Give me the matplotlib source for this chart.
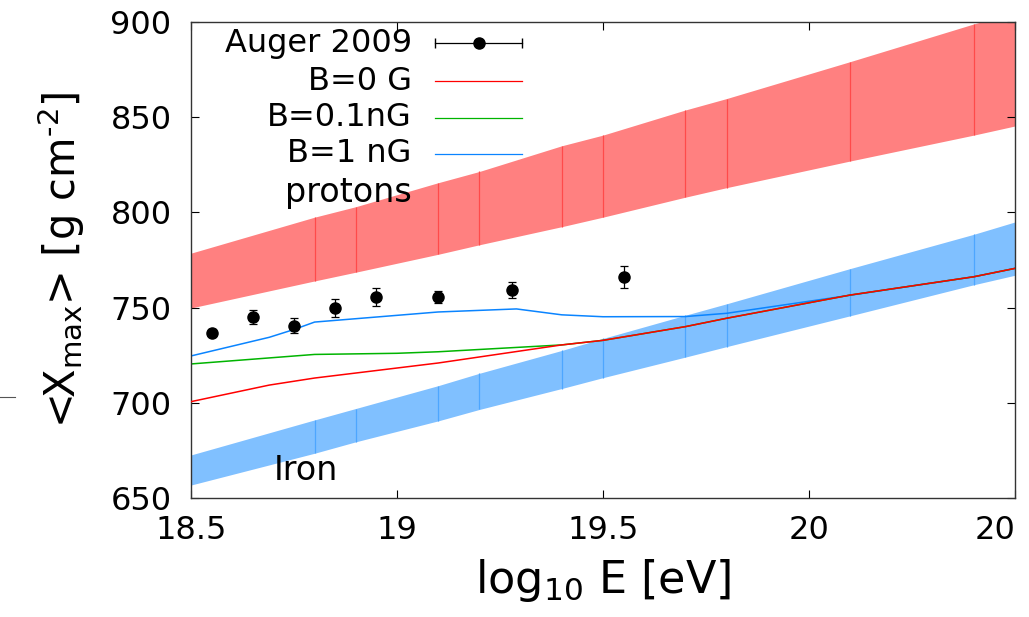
import numpy as np
import matplotlib
matplotlib.use("Agg")
import matplotlib.pyplot as plt
from matplotlib.lines import Line2D

plt.rcParams['font.family'] = ['DejaVu Sans']
plt.rcParams['mathtext.fontset'] = 'dejavusans'
plt.rcParams['mathtext.default'] = 'regular'

# Auger 2009 data
auger_E = [18.55, 18.65, 18.75, 18.85, 18.95, 19.10, 19.28, 19.55]
auger_X = [736.8, 745.2, 740.5, 749.8, 755.6, 755.6, 759.2, 766.2]
auger_err = [1.8, 3.7, 4.0, 4.5, 4.7, 3.0, 4.3, 5.7]

# proton / iron bands
band_E = [18.5, 18.8, 18.9, 19.1, 19.2, 19.4, 19.5, 19.7, 19.8, 20.1, 20.4, 20.5]
proton_hi = [778.6, 797.5, 803.0, 815.6, 821.5, 835.0, 840.6, 853.8, 859.8, 879.2, 899.0, 905.0]
proton_lo = [749.8, 764.0, 768.6, 778.0, 783.0, 792.5, 797.5, 808.0, 813.0, 827.0, 840.6, 845.4]
iron_hi = [672.6, 691.0, 697.0, 709.0, 715.5, 727.5, 733.8, 746.0, 752.0, 770.5, 788.5, 795.0]
iron_lo = [656.8, 673.5, 679.5, 690.5, 696.5, 707.5, 713.2, 724.0, 729.5, 745.7, 762.0, 767.0]

# model curves
b0_E = [18.5, 18.69, 18.8, 19.1, 19.4, 19.5, 19.7, 19.8, 20.1, 20.4, 20.5]
b0_X = [700.6, 709.3, 713.0, 720.9, 730.4, 732.8, 740.0, 744.4, 756.6, 766.2, 770.6]
b01_E = [18.5, 18.8, 19.0, 19.1, 19.25, 19.4, 19.5, 19.7, 19.8, 20.1, 20.4, 20.5]
b01_X = [720.4, 725.4, 726.0, 726.8, 728.6, 730.4, 732.8, 740.0, 744.4, 756.6, 766.2, 770.6]
b1_E = [18.5, 18.69, 18.75, 18.8, 19.1, 19.29, 19.4, 19.5, 19.7, 19.8, 20.1, 20.4, 20.5]
b1_X = [724.6, 734.4, 738.5, 742.4, 747.7, 749.3, 746.2, 745.2, 745.3, 747.0, 756.5, 766.2, 770.6]

xticks = [18.5, 19, 19.5, 20, 20.5]
xticklabels = ['18.5', '19', '19.5', '20', '20']
yticks = [650, 700, 750, 800, 850, 900]

fig = plt.figure(figsize=(10.29, 6.17), dpi=100)
ax = fig.add_axes([0.1856, 0.1929, 0.8008, 0.7714])

# bands
ax.fill_between(band_E, proton_lo, proton_hi, color='#ff8080', lw=0, zorder=1)
ax.vlines(band_E[1:-1], proton_lo[1:-1], proton_hi[1:-1], color='#ff4a4a', lw=0.9, zorder=1.1)
ax.fill_between(band_E, iron_lo, iron_hi, color='#80c0ff', lw=0, zorder=1)
ax.vlines(band_E[1:-1], iron_lo[1:-1], iron_hi[1:-1], color='#4da6ff', lw=0.9, zorder=1.1)

# curves
ax.plot(b1_E, b1_X, color='#0a84ff', lw=1.1, zorder=2)
ax.plot(b01_E, b01_X, color='#00b400', lw=1.1, zorder=2)
ax.plot(b0_E, b0_X, color='#ff0000', lw=1.1, zorder=3)

ax.errorbar(auger_E, auger_X, yerr=auger_err, fmt='o', color='black',
            ms=8, capsize=3, elinewidth=0.9, capthick=0.9, zorder=4)

ax.set_xlim(18.5, 20.5)
ax.set_ylim(650, 900)
ax.set_xticks(xticks)
ax.set_xticklabels(xticklabels)
ax.set_yticks(yticks)
ax.tick_params(direction='in', top=True, right=True, length=6, width=0.8,
               labelsize=23)
ax.tick_params(axis='x', pad=12)
ax.tick_params(axis='y', pad=14)
# last label is clipped in the original, only "20" remains
ax.get_xticklabels()[-1].set_ha('right')
for s in ax.spines.values():
    s.set_linewidth(1.0)
    s.set_color('#333333')

ax.set_xlabel(r'log$_{10}$ E [eV]', fontsize=32, labelpad=8)
ax.set_ylabel(r'<X$_{max}$> [g cm$^{\text{-}2}$]', fontsize=30, labelpad=17)

# gnuplot style key
key_labels = ['Auger 2009', 'B=0 G', 'B=0.1nG', 'B=1 nG']
key_colors = ['black', '#ff0000', '#00b400', '#0a84ff']
key_y = [0.955, 0.876, 0.799, 0.723]
for lab, col, yk in zip(key_labels, key_colors, key_y):
    ax.text(0.268, yk, lab, transform=ax.transAxes, ha='right', va='center',
            fontsize=23, zorder=6)
    ax.plot([0.296, 0.402], [yk, yk], transform=ax.transAxes, color=col,
            lw=0.9, zorder=6)
ax.plot([0.296, 0.402], [key_y[0]] * 2, transform=ax.transAxes, ls='none',
        marker='|', ms=7, color='black', zorder=6)
ax.plot([0.349], [key_y[0]], transform=ax.transAxes, marker='o', ms=8,
        color='black', zorder=6)

ax.text(0.268, 0.642, 'protons', transform=ax.transAxes, ha='right',
        va='center', fontsize=24, zorder=6)
ax.text(18.7, 664.5, 'Iron', ha='left', va='center', fontsize=24, zorder=6)

# stray mark at left edge of the original figure
fig.add_artist(Line2D([0.0, 0.015], [0.357, 0.357], color='#555555', lw=0.8))

fig.savefig('out.png', dpi=100)
